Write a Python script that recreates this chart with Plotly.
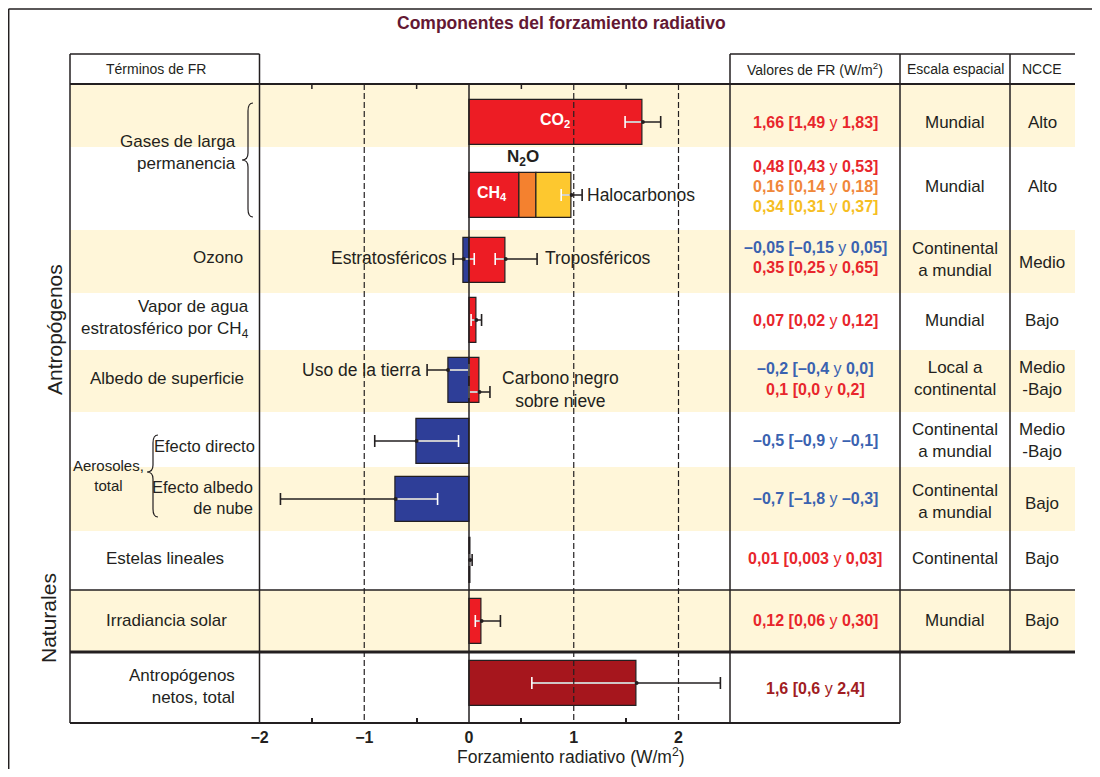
import plotly.graph_objects as go

# page is 1100x777 with an 8px body margin -> figure fits inside it
PAGE_W, PAGE_H, OFF = 1100, 777, 8
W, H = PAGE_W - 2 * OFF, PAGE_H - 2 * OFF

# ---------------- data ----------------
bar_terms = ["CO2", "CH4", "N2O", "Halocarbonos", "Ozono estratosférico", "Ozono troposférico",
             "Vapor de agua estratosférico por CH4", "Uso de la tierra",
             "Carbono negro sobre nieve", "Aerosoles: efecto directo",
             "Aerosoles: efecto albedo de nube", "Estelas lineales", "Irradiancia solar",
             "Antropógenos netos, total"]
bar_values = [1.66, 0.48, 0.16, 0.34, -0.05, 0.35, 0.07, -0.2, 0.1, -0.5, -0.7, 0.01, 0.12, 1.6]
bar_row = [0, 1, 1, 1, 2, 2, 3, 4, 4, 5, 6, 7, 8, 9]

err_row = [0, 1, 2, 2, 3, 4, 4, 5, 6, 7, 8, 9]
err_mid = [1.66, 0.98, -0.05, 0.35, 0.07, -0.2, 0.1, -0.5, -0.7, 0.01, 0.12, 1.6]
err_low = [1.49, 0.88, -0.15, 0.25, 0.02, -0.4, 0.0, -0.9, -1.8, 0.003, 0.06, 0.6]
err_high = [1.83, 1.08, 0.05, 0.65, 0.12, 0.0, 0.2, -0.1, -0.3, 0.03, 0.30, 2.4]

fr_values = [
    ["1,66 [1,49 y 1,83]"],
    ["0,48 [0,43 y 0,53]", "0,16 [0,14 y 0,18]", "0,34 [0,31 y 0,37]"],
    ["–0,05 [–0,15 y 0,05]", "0,35 [0,25 y 0,65]"],
    ["0,07 [0,02 y 0,12]"],
    ["–0,2 [–0,4 y 0,0]", "0,1 [0,0 y 0,2]"],
    ["–0,5 [–0,9 y –0,1]"],
    ["–0,7 [–1,8 y –0,3]"],
    ["0,01 [0,003 y 0,03]"],
    ["0,12 [0,06 y 0,30]"],
    ["1,6 [0,6 y 2,4]"],
]
escala = ["Mundial", "Mundial", "Continental<br>a mundial", "Mundial", "Local a<br>continental",
          "Continental<br>a mundial", "Continental<br>a mundial", "Continental", "Mundial", ""]
ncce = ["Alto", "Alto", "Medio", "Bajo", "Medio<br>-Bajo", "Medio<br>-Bajo", "Bajo", "Bajo", "Bajo", ""]

x_ticks = [-2, -1, 0, 1, 2]
x_tick_text = ["−2", "−1", "0", "1", "2"]
x_minor = [-1.5, -0.5, 0.5, 1.5]
dashed_x = [-1, 1, 2]

# ---------------- styles / layout ----------------
RED, ORANGE, YEL, BLUE, DRED = "#ED1C24", "#F4812F", "#FDC82F", "#2E3E98", "#A6161D"
T_RED, T_OR, T_YEL, T_BLUE, T_DRED = "#E8262C", "#F0873A", "#F6BE22", "#3A62B0", "#A11C22"
BG_Y = "#FFF6D9"
TXT = "#231F20"
LINE = "#231F20"
FONT = "Liberation Sans, Arial, sans-serif"

bar_colors = [RED, RED, ORANGE, YEL, BLUE, RED, RED, BLUE, RED, BLUE, BLUE, RED, RED, DRED]
val_colors = [[T_RED], [T_RED, T_OR, T_YEL], [T_BLUE, T_RED], [T_RED], [T_BLUE, T_RED],
              [T_BLUE], [T_BLUE], [T_RED], [T_RED], [T_DRED]]

# positions in reference-page pixels
ROW_EDGES = [84, 147, 230, 293, 350, 412, 467, 531, 590, 652, 723]
BAR_Y = [122, 195, 260, 320, 380, 441, 499, 560, 621, 683]
ERR_DY = [0, 0, -1, -1, 0, -10, 12, 0, 0, 0, 0, 0]
BAR_H = 45
CAP = 6
VAL_Y = [[122], [166, 186, 206], [248, 268], [320], [368, 389], [440], [498], [558], [620], [688]]
ESC_Y = [122, 186, 259, 320, 378, 440, 501, 558, 620, 0]
NC_Y = [122, 186, 263, 320, 378, 440, 503, 558, 620, 0]

X0, X_PL, X_PR, X_VR, X_ER, X_NR = 70, 259.5, 730, 900, 1010, 1075
ZERO_PX, SCALE = 469, 104.75


def px(x):
    return (x - OFF) / W


def py(y):
    return 1 - (y - OFF) / H


fig = go.Figure()

# ---- bars (stack positives and negatives separately within a row) ----
bases = []
pos_acc, neg_acc = {}, {}
for v, r in zip(bar_values, bar_row):
    if v >= 0:
        b = pos_acc.get(r, 0.0)
        pos_acc[r] = b + v
    else:
        b = neg_acc.get(r, 0.0)
        neg_acc[r] = b + v
    bases.append(b)

fig.add_trace(go.Bar(
    orientation="h", x=bar_values, base=bases, y=[BAR_Y[r] for r in bar_row],
    width=[BAR_H] * len(bar_values), marker=dict(color=bar_colors, line=dict(color=LINE, width=1.2)),
    hovertext=bar_terms, showlegend=False))

# ---- error bars: white inside bars, black outside ----
cover = {}
for v, b, r in zip(bar_values, bases, bar_row):
    lo, hi = min(b, b + v), max(b, b + v)
    c = cover.get(r, (0.0, 0.0))
    cover[r] = (min(c[0], lo), max(c[1], hi))

bx, by, wx, wy, cbx, cby, cwx, cwy = [], [], [], [], [], [], [], []
dotx, doty = [], []
for i, (m, lo, hi, r) in enumerate(zip(err_mid, err_low, err_high, err_row)):
    yc = BAR_Y[r] + ERR_DY[i]
    clo, chi = cover[r]
    bx += [lo, hi, None]
    by += [yc, yc, None]
    a, b = max(lo, clo), min(hi, chi)
    if b > a:
        wx += [a, b, None]
        wy += [yc, yc, None]
    for e in (lo, hi):
        if clo <= e <= chi:
            cwx += [e, e, None]
            cwy += [yc - CAP, yc + CAP, None]
        else:
            cbx += [e, e, None]
            cby += [yc - CAP, yc + CAP, None]
    dotx.append(m)
    doty.append(yc)

fig.add_trace(go.Scatter(x=bx, y=by, mode="lines", line=dict(color=LINE, width=1.4), showlegend=False, hoverinfo="skip"))
fig.add_trace(go.Scatter(x=wx, y=wy, mode="lines", line=dict(color="white", width=1.4), showlegend=False, hoverinfo="skip"))
fig.add_trace(go.Scatter(x=cbx, y=cby, mode="lines", line=dict(color=LINE, width=1.6), showlegend=False, hoverinfo="skip"))
fig.add_trace(go.Scatter(x=cwx, y=cwy, mode="lines", line=dict(color="white", width=1.6), showlegend=False, hoverinfo="skip"))
fig.add_trace(go.Scatter(x=dotx, y=doty, mode="markers", marker=dict(color=LINE, size=4), showlegend=False, hoverinfo="skip"))

# ---- table background ----
shapes = []
for i in range(len(ROW_EDGES) - 1):
    if i % 2 == 0:
        shapes.append(dict(type="rect", xref="paper", yref="paper", x0=px(X0), x1=px(X_NR),
                           y0=py(ROW_EDGES[i + 1]), y1=py(ROW_EDGES[i]), fillcolor=BG_Y,
                           line=dict(width=0), layer="below"))


def hline(y, x0, x1, w=1.5, layer="above"):
    shapes.append(dict(type="line", xref="paper", yref="paper", x0=px(x0), x1=px(x1), y0=py(y), y1=py(y),
                       line=dict(color=LINE, width=w), layer=layer))


def vline(x, y0, y1, w=1.5, layer="above"):
    shapes.append(dict(type="line", xref="paper", yref="paper", x0=px(x), x1=px(x), y0=py(y0), y1=py(y1),
                       line=dict(color=LINE, width=w), layer=layer))


# outer frame
hline(9, 8.5, 1092, 1.5)
vline(8.7, 9, 769, 1.5)
# header & table rules
hline(54, X0, X_PL, 1.5)
hline(54, X_PR, X_NR, 1.5)
hline(84, X0, X_NR, 2)
hline(590, X0, X_NR, 1.5)
hline(652, X0, X_NR, 3)
hline(723, X0, X_VR, 2)
vline(X0, 54, 723)
vline(X_PL, 54, 723)
vline(X_PR, 54, 723)
vline(X_VR, 54, 723)
vline(X_ER, 54, 652)

# grid lines in plot
for xv in dashed_x:
    shapes.append(dict(type="line", xref="x", yref="y", x0=xv, x1=xv, y0=ROW_EDGES[0], y1=ROW_EDGES[-1],
                       line=dict(color=LINE, width=1.2, dash="6px,3px"), layer="above"))
shapes.append(dict(type="line", xref="x", yref="y", x0=0, x1=0, y0=ROW_EDGES[0], y1=ROW_EDGES[-1],
                   line=dict(color=LINE, width=1.5), layer="above"))
# mirrored half-unit ticks along the top edge of the plot
for xv in x_minor:
    shapes.append(dict(type="line", xref="x", yref="y", x0=xv, x1=xv, y0=ROW_EDGES[0], y1=ROW_EDGES[0] + 5,
                       line=dict(color=LINE, width=1.5), layer="above"))


# braces
def brace(xr, ytop, ybot, ytip, depth=5, tip=6):
    xm = xr - depth
    xt = xm - tip
    pts = [
        f"M {px(xr)},{py(ytop)}",
        f"Q {px(xm)},{py(ytop)} {px(xm)},{py(ytop + 8)}",
        f"L {px(xm)},{py(ytip - 7)}",
        f"Q {px(xm)},{py(ytip)} {px(xt)},{py(ytip)}",
        f"Q {px(xm)},{py(ytip)} {px(xm)},{py(ytip + 7)}",
        f"L {px(xm)},{py(ybot - 8)}",
        f"Q {px(xm)},{py(ybot)} {px(xr)},{py(ybot)}",
    ]
    shapes.append(dict(type="path", xref="paper", yref="paper", path=" ".join(pts),
                       line=dict(color=LINE, width=1.2)))


brace(253, 103, 217, 160)
brace(158, 435, 517, 472)

fig.update_layout(shapes=shapes)


# ---- annotations ----
def ann(text, x, y, size=17, color=TXT, xa="center", ya="middle", align="center", ref="paper", angle=0):
    if ref == "paper":
        xx, yy, xr, yr = px(x), py(y), "paper", "paper"
    else:
        xx, yy, xr, yr = x, y, "x", "y"
    fig.add_annotation(text=text, x=xx, y=yy, xref=xr, yref=yr, showarrow=False, xanchor=xa, yanchor=ya,
                       align=align, textangle=angle, font=dict(family=FONT, size=size, color=color))


ann("<b>Componentes del forzamiento radiativo</b>", 561, 23, size=17.5, color="#641833")
ann("Términos de FR", 156, 69, size=14)
ann("Valores de FR (W/m<sup>2</sup>)", 815, 69, size=14)
ann("Escala espacial", 955, 69, size=14)
ann("NCCE", 1042, 69, size=14)

# left labels
ann("Gases de larga<br>permanencia", 238, 153, xa="right", align="right")
ann("Ozono", 245, 258, xa="right", align="right")
ann("Vapor de agua<br>estratosférico por CH<sub>4</sub>", 251, 319, xa="right", align="right")
ann("Albedo de superficie", 167, 378)
ann("Efecto directo", 257, 446, size=16.5, xa="right", align="right")
ann("Efecto albedo<br>de nube", 255, 497, size=16.5, xa="right", align="right")
ann("Aerosoles,<br>total", 108, 475, size=15)
ann("Estelas lineales", 165, 558)
ann("Irradiancia solar", 166, 620)
ann("Antropógenos<br>netos, total", 237, 686, xa="right", align="right")
ann("Antropógenos", 54, 330, size=21, angle=-90)
ann("Naturales", 48, 618, size=21, angle=-90)

# labels inside the plot (data x, pixel-row y)
ann("<b>CO<sub>2</sub></b>", 0.82, 121, size=16, color="white", ref="data")
ann("<b>CH<sub>4</sub></b>", 0.22, 194, size=16, color="white", ref="data")
ann("<b>N<sub>2</sub>O</b>", 0.52, 158, size=17, ref="data")
ann("Halocarbonos", 1.11, 195, size=17.5, xa="left", ref="data")
ann("Estratosféricos", -0.19, 258, size=17.5, xa="right", ref="data")
ann("Troposféricos", 0.71, 258, size=17.5, xa="left", ref="data")
ann("Uso de la tierra", -0.44, 370, size=17.5, xa="right", ref="data")
ann("Carbono negro<br>sobre nieve", 0.87, 390, size=17.5, ref="data")

# table values
for r, (lines, cols) in enumerate(zip(fr_values, val_colors)):
    for txt, col, yv in zip(lines, cols, VAL_Y[r]):
        left, right = txt.split(" y ")
        ann(f"<b>{left}</b> y <b>{right}</b>", 815, yv, size=16, color=col)
for r in range(len(escala)):
    if escala[r]:
        ann(escala[r], 955, ESC_Y[r])
    if ncce[r]:
        ann(ncce[r], 1042, NC_Y[r])

ann("Forzamiento radiativo (W/m<sup>2</sup>)", 571, 769, size=17.5, ya="bottom")

fig.update_layout(
    width=W, height=H, margin=dict(l=0, r=0, t=0, b=0, autoexpand=False),
    paper_bgcolor="white", plot_bgcolor="rgba(0,0,0,0)", barmode="overlay", bargap=0,
    showlegend=False,
    xaxis=dict(domain=[px(X_PL), px(X_PR)], range=[-2, (X_PR - ZERO_PX) / SCALE],
               tickvals=x_ticks, ticktext=[f"<b>{t}</b>" for t in x_tick_text],
               tickfont=dict(family=FONT, size=16, color=TXT), ticks="", showgrid=False,
               zeroline=False, showline=False, ticklabelstandoff=3, automargin=False,
               minor=dict(tickvals=x_minor, ticks="inside", ticklen=5, tickcolor=LINE, tickwidth=1.5)),
    yaxis=dict(domain=[py(ROW_EDGES[-1]), py(ROW_EDGES[0])], range=[ROW_EDGES[-1], ROW_EDGES[0]],
               visible=False, showgrid=False, zeroline=False, automargin=False),
)

fig.write_html("out.html")
